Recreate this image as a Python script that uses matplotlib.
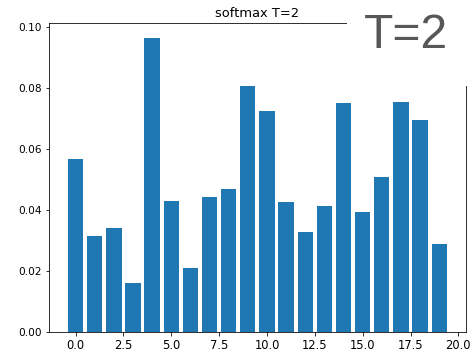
import matplotlib
matplotlib.use("Agg")
import matplotlib.pyplot as plt
from matplotlib.patches import Rectangle
import numpy as np

# softmax output at temperature 2, one value per class index
probs = [0.0569, 0.0315, 0.0340, 0.0160, 0.0964, 0.0431, 0.0211, 0.0442, 0.0470, 0.0808,
         0.0725, 0.0425, 0.0328, 0.0414, 0.0750, 0.0394, 0.0507, 0.0755, 0.0697, 0.0290]
idx = np.arange(len(probs))

fig = plt.figure(figsize=(471 / 72, 358 / 72), dpi=72)
ax = fig.add_axes([0.104, 0.0726, 0.885, 0.862])
ax.bar(idx, probs, color='#1f77b4')
ax.set_title('softmax T=2', fontsize=13)
ax.tick_params(axis='y', labelsize=10.5)
ax.tick_params(axis='x', labelsize=11.5)

# label panel pasted over the top-right corner
fig.patches.append(Rectangle((347 / 471, 1 - 86 / 358), 1 - 347 / 471, 86 / 358,
                             transform=fig.transFigure, facecolor='white',
                             edgecolor='none', zorder=5))
fig.text(406 / 471, 1 - 36 / 358, 'T=2', fontsize=48, color='#575757',
         family='Liberation Sans', ha='center', va='center', zorder=6)

fig.savefig('out.png', dpi=72)
